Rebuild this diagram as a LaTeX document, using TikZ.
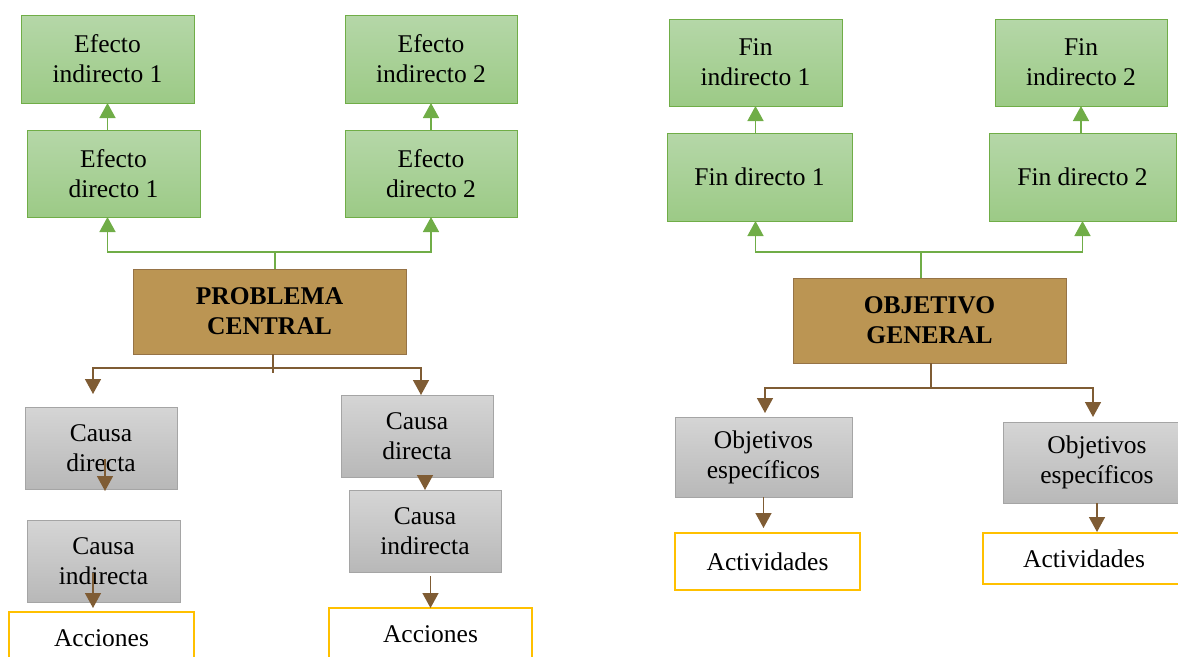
\documentclass[tikz,border=0pt]{standalone}
\usepackage{fontspec}
\setmainfont{Liberation Serif}
\usetikzlibrary{arrows.meta,calc}
\definecolor{gborder}{RGB}{112,173,71}
\definecolor{gtop}{RGB}{181,215,168}
\definecolor{gbot}{RGB}{156,202,134}
\definecolor{pfill}{RGB}{187,149,83}
\definecolor{pborder}{RGB}{150,115,70}
\definecolor{ctop}{RGB}{213,213,213}
\definecolor{cbot}{RGB}{184,184,184}
\definecolor{cborder}{RGB}{165,165,165}
\definecolor{barrow}{RGB}{127,92,52}
\definecolor{ybord}{RGB}{255,192,0}
\tikzset{
  box/.style={rectangle, inner sep=0pt, outer sep=0pt, align=center,
    font=\fontsize{25.5pt}{30pt}\selectfont},
  gbox/.style={box, draw=gborder, line width=0.9pt, top color=gtop, bottom color=gbot},
  pbox/.style={box, draw=pborder, line width=1pt, fill=pfill,
    font=\fontsize{25.5pt}{30pt}\selectfont\bfseries},
  cbox/.style={box, draw=cborder, line width=1pt, top color=ctop, bottom color=cbot},
  ybox/.style={box, draw=ybord, line width=2.4pt, fill=white},
  gline/.style={draw=gborder, line width=1.5pt},
  garr/.style={gline, -{Triangle[width=16pt,length=15pt]}},
  bline/.style={draw=barrow, line width=1.5pt},
  barr/.style={bline, -{Triangle[width=16pt,length=15pt]}},
}
\begin{document}
\begin{tikzpicture}[x=1pt,y=-1pt]
\useasboundingbox (0,0) rectangle (1178,656);
\clip (0,0) rectangle (1178,656);
% ---------------- left tree ----------------
\node[gbox, minimum width=173pt, minimum height=88pt] (ei1) at (107.5,59) {Efecto\\indirecto 1};
\node[gbox, minimum width=172pt, minimum height=88pt] (ei2) at (431,59) {Efecto\\indirecto 2};
\node[gbox, minimum width=173pt, minimum height=87pt] (ed1) at (113.5,173.5) {Efecto\\directo 1};
\node[gbox, minimum width=172pt, minimum height=87pt] (ed2) at (431,173.5) {Efecto\\directo 2};
\node[pbox, minimum width=273pt, minimum height=85pt] (prob) at (269.5,311.5) {PROBLEMA\\CENTRAL};
\node[cbox, minimum width=152pt, minimum height=82pt] (cdL) at (101,448) {Causa\\directa};
\node[cbox, minimum width=153pt, minimum height=82pt] (ciL) at (103.5,561) {Causa\\indirecta};
\node[ybox, minimum width=185pt, minimum height=52pt] (acL) at (101.5,638) {Acciones};
\node[cbox, minimum width=152pt, minimum height=82pt] (cdR) at (417,436) {Causa\\directa};
\node[cbox, minimum width=152pt, minimum height=82pt] (ciR) at (425,531) {Causa\\indirecta};
\node[ybox, minimum width=203pt, minimum height=52pt] (acR) at (430.5,634) {Acciones};
% green connectors (left)
\draw[garr] (ei1.south |- ed1.north) -- (ei1.south);
\draw[garr] (ei2.south |- ed2.north) -- (ei2.south);
\coordinate (pj) at (275,252);
\draw[gline] (prob.north -| pj) -- (pj);
\draw[garr] (pj) -| (ei1.south |- ed1.south);
\draw[garr] (pj) -| (ed2.south);
% brown connectors (left)
\coordinate (sj) at (273,368);
\coordinate (aL) at (93,394);
\coordinate (aR) at (421,395);
\draw[bline] (prob.south -| sj) -- ++(0,19);
\draw[barr] (sj) -| (aL);
\draw[barr] (sj) -| (aR);
\draw[barr] ($(cdL.south)+(4,-30)$) -- ($(cdL.south)+(4,2)$);
\draw[barr] ($(ciL.south)+(-10.5,-29)$) -- ($(ciL.south)+(-10.5,6)$);
\draw[barr] (ciR.north |- cdR.south) -- (ciR.north);
\draw[barr, shorten <=4pt] (acR.north |- ciR.south) -- (acR.north);
% ---------------- right tree ----------------
\node[gbox, minimum width=173pt, minimum height=87pt] (fi1) at (755.5,62.5) {Fin\\indirecto 1};
\node[gbox, minimum width=172pt, minimum height=87pt] (fi2) at (1081,62.5) {Fin\\indirecto 2};
\node[gbox, minimum width=185pt, minimum height=88pt] (fd1) at (759.5,177) {Fin directo 1};
\node[gbox, minimum width=187pt, minimum height=88pt] (fd2) at (1082.5,177) {Fin directo 2};
\node[pbox, minimum width=273pt, minimum height=85pt] (obj) at (929.5,320.5) {OBJETIVO\\GENERAL};
\node[cbox, minimum width=177pt, minimum height=80pt] (oeL) at (763.5,457) {Objetivos\\específicos};
\node[cbox, minimum width=188pt, minimum height=81pt] (oeR) at (1097,462.5) {Objetivos\\específicos};
\node[ybox, minimum width=185pt, minimum height=57pt] (avL) at (767.5,561.5) {Actividades};
\node[ybox, minimum width=202pt, minimum height=51pt] (avR) at (1084,558.5) {Actividades};
% green connectors (right)
\draw[garr] (fi1.south |- fd1.north) -- (fi1.south);
\draw[garr] (fi2.south |- fd2.north) -- (fi2.south);
\coordinate (oj) at (921,252);
\draw[gline] (obj.north -| oj) -- (oj);
\draw[garr] (oj) -| (fi1.south |- fd1.south);
\draw[garr] (oj) -| (fd2.south);
% brown connectors (right)
\coordinate (tj) at (931,388);
\coordinate (bL) at (765,413);
\coordinate (bR) at (1093,417);
\draw[bline] (obj.south -| tj) -- (tj);
\draw[barr] (tj) -| (bL);
\draw[barr] (tj) -| (bR);
\draw[barr, shorten >=5pt] (oeL.south) -- (oeL.south |- avL.north);
\draw[barr, shorten >=1pt] (oeR.south) -- (oeR.south |- avR.north);
\end{tikzpicture}
\end{document}
